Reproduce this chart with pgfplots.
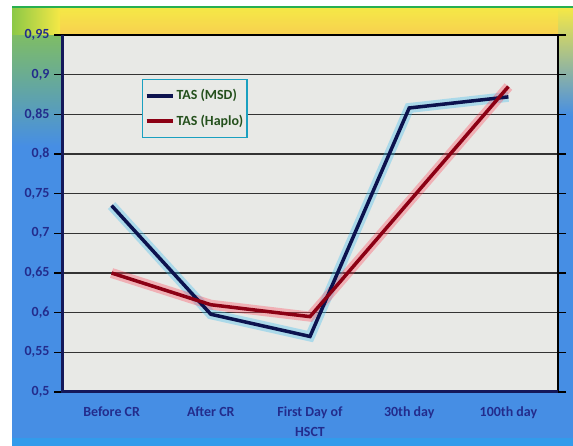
\documentclass[border=0pt]{standalone}
\usepackage{fontspec}
\setmainfont{Carlito}
\usepackage{pgfplots}
\pgfplotsset{compat=1.18}

\definecolor{bgblue}{RGB}{70,142,228}
\definecolor{bottomcyan}{RGB}{50,155,235}
\definecolor{bandyellow}{RGB}{245,232,70}
\definecolor{bandorange}{RGB}{248,208,80}
\definecolor{topgreen}{RGB}{40,175,80}
\definecolor{leftgreen}{RGB}{140,200,70}
\definecolor{midcyan}{RGB}{50,180,235}
\definecolor{plotbg}{RGB}{232,233,230}
\definecolor{labelnavy}{RGB}{35,44,140}
\definecolor{axisnavy}{RGB}{20,24,90}
\definecolor{msdnavy}{RGB}{12,18,78}
\definecolor{msdhalo}{RGB}{60,190,240}
\definecolor{haplored}{RGB}{140,0,20}
\definecolor{haplohalo}{RGB}{255,70,90}
\definecolor{legendtext}{RGB}{36,80,28}
\definecolor{legendframe}{RGB}{26,160,192}

\begin{document}
\begin{tikzpicture}[x=1bp,y=1bp]
  % page and frame backdrop
  \fill[white] (0,0) rectangle (573,446);
  \fill[bgblue] (12,0) rectangle (573,440);
  \fill[bottomcyan] (12,0) rectangle (573,8);
  \shade[top color=leftgreen, middle color=midcyan, bottom color=bgblue] (12,300) rectangle (62,438);
  \shade[top color=bandyellow, middle color=midcyan, bottom color=bgblue] (558,330) rectangle (573,438);
  \shade[top color=bandyellow, bottom color=bandorange] (30,411) rectangle (558,438);
  \shade[left color=leftgreen, right color=bandyellow] (12,411) rectangle (60,438);
  \fill[topgreen] (12,438) rectangle (573,440);

  \begin{axis}[
    at={(62bp,54bp)}, anchor=south west,
    scale only axis, width=496bp, height=357bp,
    xmin=-0.5, xmax=4.5, ymin=0.5, ymax=0.95,
    axis background/.style={fill=plotbg},
    axis line style={draw=none},
    clip=false,
    xtick={0,1,2,3,4},
    xticklabels={Before CR, After CR, {First Day of\\HSCT}, 30th day, 100th day},
    extra x ticks={-0.5,0.5,1.5,2.5,3.5,4.5},
    extra x tick labels={},
    extra x tick style={major tick length=4bp, tick style={axisnavy, line width=1bp}},
    ytick={0.5,0.55,0.6,0.65,0.7,0.75,0.8,0.85,0.9,0.95},
    yticklabels={{0,5},{0,55},{0,6},{0,65},{0,7},{0,75},{0,8},{0,85},{0,9},{0,95}},
    tick align=outside,
    x tick style={draw=none},
    y tick style={black, line width=1.2bp},
    major tick length=8bp,
    ymajorgrids,
    major grid style={black!80, line width=1.2bp},
    tick label style={font=\fontsize{14}{20}\selectfont\bfseries, text=labelnavy},
    x tick label style={align=center, yshift=-3bp},
    y tick label style={xshift=-1bp},
    legend cell align=left,
    legend style={at={(0.161,0.877)}, anchor=north west,
      fill=plotbg, draw=legendframe, line width=1.5bp,
      font=\fontsize{14}{16}\selectfont\bfseries, text=legendtext,
      inner xsep=2bp, inner ysep=8bp, row sep=10bp},
    legend image code/.code={\draw[#1, line width=4bp] (0bp,0bp) -- (26bp,0bp);},
  ]
    % soft glow under each series
    \addplot[msdhalo, opacity=0.35, line width=10bp, forget plot]
      coordinates {(0,0.735) (1,0.598) (2,0.570) (3,0.858) (4,0.872)};
    \addplot[haplohalo, opacity=0.35, line width=10bp, forget plot]
      coordinates {(0,0.650) (1,0.610) (2,0.595) (3,0.740) (4,0.885)};

    \addplot[msdnavy, line width=3.5bp]
      coordinates {(0,0.735) (1,0.598) (2,0.570) (3,0.858) (4,0.872)};
    \addlegendentry{TAS (MSD)}
    \addplot[haplored, line width=3.5bp]
      coordinates {(0,0.650) (1,0.610) (2,0.595) (3,0.740) (4,0.885)};
    \addlegendentry{TAS (Haplo)}

    % plot frame: heavy left and bottom, thin top and right
    \draw[black, line width=1.8bp] (rel axis cs:0,1) -- (rel axis cs:1,1) -- (rel axis cs:1,0);
    \draw[axisnavy, line width=3bp] (rel axis cs:0,1) -- (rel axis cs:0,0) -- (rel axis cs:1,0);
  \end{axis}

  \pgfresetboundingbox
  \useasboundingbox (0,0) rectangle (573,446);
\end{tikzpicture}
\end{document}
